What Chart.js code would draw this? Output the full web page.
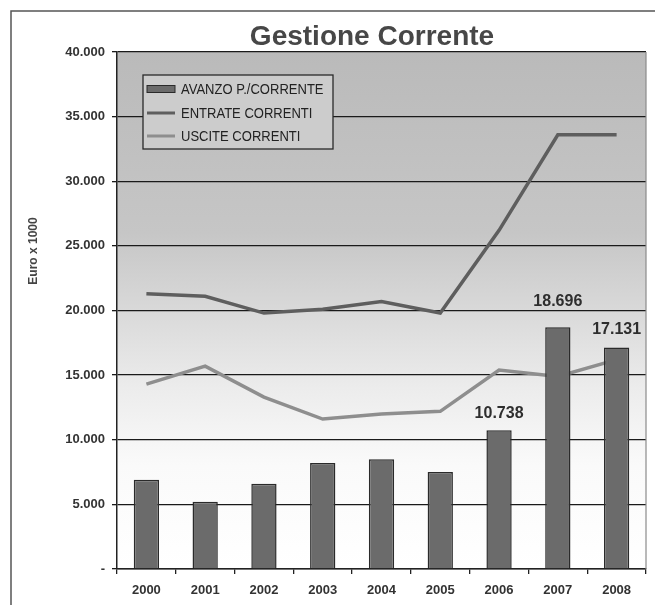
<!DOCTYPE html>
<html>
<head>
<meta charset="utf-8">
<title>Gestione Corrente</title>
<script src="https://cdn.jsdelivr.net/npm/chart.js@4.4.1/dist/chart.umd.min.js"></script>
<style>
  html, body { margin: 0; padding: 0; background: #fff; }
  canvas { display: block; }
</style>
</head>
<body>
<canvas id="chart1" width="655" height="605"></canvas>
<script>
// valori in migliaia di euro
var anni = ['2000', '2001', '2002', '2003', '2004', '2005', '2006', '2007', '2008'];
var avanzo = [6900, 5200, 6600, 8200, 8500, 7500, 10738, 18696, 17131];
var entrate = [21300, 21100, 19800, 20100, 20700, 19800, 26200, 33600, 33600];
var uscite = [14300, 15700, 13300, 11600, 12000, 12200, 15400, 14900, 16200];
var anniEtichettati = ['2006', '2007', '2008'];
var spostEtichette = [17, 26, 18];

function formatEuro(v) {
    if (v === 0) return '-';
    return String(Math.round(v)).replace(/\B(?=(\d{3})+(?!\d))/g, '.');
}

// sfondo sfumato dell'area del grafico + cornice esterna
var sfondo = {
    id: 'sfondo',
    beforeDraw: function(chart) {
        var ctx = chart.ctx, a = chart.chartArea;
        ctx.save();
        var g = ctx.createLinearGradient(0, a.top, 0, a.bottom);
        g.addColorStop(0, '#bababa');
        g.addColorStop(0.35, '#c6c6c6');
        g.addColorStop(0.5, '#d9d9d9');
        g.addColorStop(0.65, '#ececec');
        g.addColorStop(0.8, '#fafafa');
        g.addColorStop(1, '#ffffff');
        ctx.fillStyle = g;
        ctx.fillRect(a.left, a.top, a.right - a.left, a.bottom - a.top);
        ctx.strokeStyle = '#555';
        ctx.lineWidth = 1.5;
        ctx.beginPath();
        ctx.moveTo(11, chart.height);
        ctx.lineTo(11, 11);
        ctx.lineTo(chart.width, 11);
        ctx.stroke();
        ctx.restore();
    },
    afterDatasetsDraw: function(chart) {
        var ctx = chart.ctx, a = chart.chartArea;
        ctx.save();
        ctx.strokeStyle = '#8a8a8a';
        ctx.lineWidth = 1.2;
        ctx.beginPath();
        ctx.moveTo(a.right, a.top);
        ctx.lineTo(a.right, a.bottom);
        ctx.stroke();
        ctx.restore();
    }
};

// titolo, titolo asse, etichette valori e legenda
var testi = {
    id: 'testi',
    afterDraw: function(chart) {
        var ctx = chart.ctx, a = chart.chartArea;
        ctx.save();
        ctx.fillStyle = '#474747';
        ctx.font = 'bold 28px "Liberation Sans", Arial, sans-serif';
        ctx.textAlign = 'center';
        ctx.textBaseline = 'middle';
        ctx.fillText('Gestione Corrente', 372, 37);

        ctx.save();
        ctx.translate(34, 251);
        ctx.rotate(-Math.PI / 2);
        ctx.font = 'bold 12px "Liberation Sans", Arial, sans-serif';
        ctx.fillStyle = '#444';
        ctx.fillText('Euro x 1000', 0, 0);
        ctx.restore();

        var meta = chart.getDatasetMeta(0);
        ctx.font = 'bold 16px "Liberation Sans", Arial, sans-serif';
        ctx.fillStyle = '#2e2e2e';
        anniEtichettati.forEach(function(anno, k) {
            var i = anni.indexOf(anno);
            var bar = meta.data[i];
            ctx.fillText(formatEuro(avanzo[i]), bar.x, bar.y - spostEtichette[k]);
        });

        // legenda
        var lx = 143, ly = 75, lw = 190, lh = 74;
        ctx.fillStyle = '#cccccc';
        ctx.fillRect(lx, ly, lw, lh);
        ctx.strokeStyle = '#2a2a2a';
        ctx.lineWidth = 1.3;
        ctx.strokeRect(lx, ly, lw, lh);
        var righe = [89, 113, 136];
        ctx.font = '14px "Liberation Sans", Arial, sans-serif';
        ctx.textAlign = 'left';
        chart.data.datasets.forEach(function(ds, i) {
            var y = righe[i];
            if (ds.type === 'bar') {
                ctx.fillStyle = ds.backgroundColor;
                ctx.fillRect(147, y - 3.5, 28, 7);
                ctx.strokeStyle = ds.borderColor;
                ctx.lineWidth = 1;
                ctx.strokeRect(147, y - 3.5, 28, 7);
            } else {
                ctx.strokeStyle = ds.borderColor;
                ctx.lineWidth = 3;
                ctx.beginPath();
                ctx.moveTo(147, y);
                ctx.lineTo(175, y);
                ctx.stroke();
            }
            ctx.fillStyle = '#222';
            ctx.save();
            ctx.translate(181, y);
            ctx.scale(0.93, 1);
            ctx.fillText(ds.label, 0, 1);
            ctx.restore();
        });
        ctx.restore();
    }
};

var char1El = document.getElementById('chart1');
new Chart(char1El, {
    data: {
        labels: anni,
        datasets: [{
            type: 'bar',
            label: 'AVANZO P./CORRENTE',
            data: avanzo,
            backgroundColor: '#6b6b6b',
            borderColor: '#2a2a2a',
            borderWidth: 1.5,
            barPercentage: 0.43,
            categoryPercentage: 1,
            order: 0
        }, {
            type: 'line',
            label: 'ENTRATE CORRENTI',
            data: entrate,
            borderColor: '#5e5e5e',
            borderWidth: 3.5,
            pointRadius: 0,
            tension: 0,
            order: 1
        }, {
            type: 'line',
            label: 'USCITE CORRENTI',
            data: uscite,
            borderColor: '#8e8e8e',
            borderWidth: 3.5,
            pointRadius: 0,
            tension: 0,
            order: 1
        }]
    },
    options: {
        responsive: false,
        animation: false,
        layout: {
            padding: { top: 52, right: 9, left: 0, bottom: 0 }
        },
        plugins: {
            legend: { display: false },
            title: { display: false },
            tooltip: { enabled: false }
        },
        scales: {
            x: {
                offset: true,
                grid: {
                    offset: true,
                    drawOnChartArea: false,
                    drawTicks: true,
                    tickLength: 5,
                    color: '#222',
                    lineWidth: 1.3
                },
                border: { color: '#222', width: 1.5 },
                ticks: {
                    color: '#333',
                    padding: 9,
                    font: { family: '"Liberation Sans", Arial, sans-serif', size: 13, weight: 'bold' }
                },
                afterFit: function(s) { s.height = 36; }
            },
            y: {
                min: 0,
                max: 40000,
                ticks: {
                    stepSize: 5000,
                    color: '#333',
                    padding: 7,
                    font: { family: '"Liberation Sans", Arial, sans-serif', size: 13, weight: 'bold' },
                    callback: function(v) { return formatEuro(v); }
                },
                grid: {
                    color: '#1a1a1a',
                    lineWidth: 1.3,
                    tickLength: 5
                },
                border: { color: '#222', width: 1.5 },
                afterFit: function(s) { s.width = 117; }
            }
        }
    },
    plugins: [sfondo, testi]
});
</script>
</body>
</html>
